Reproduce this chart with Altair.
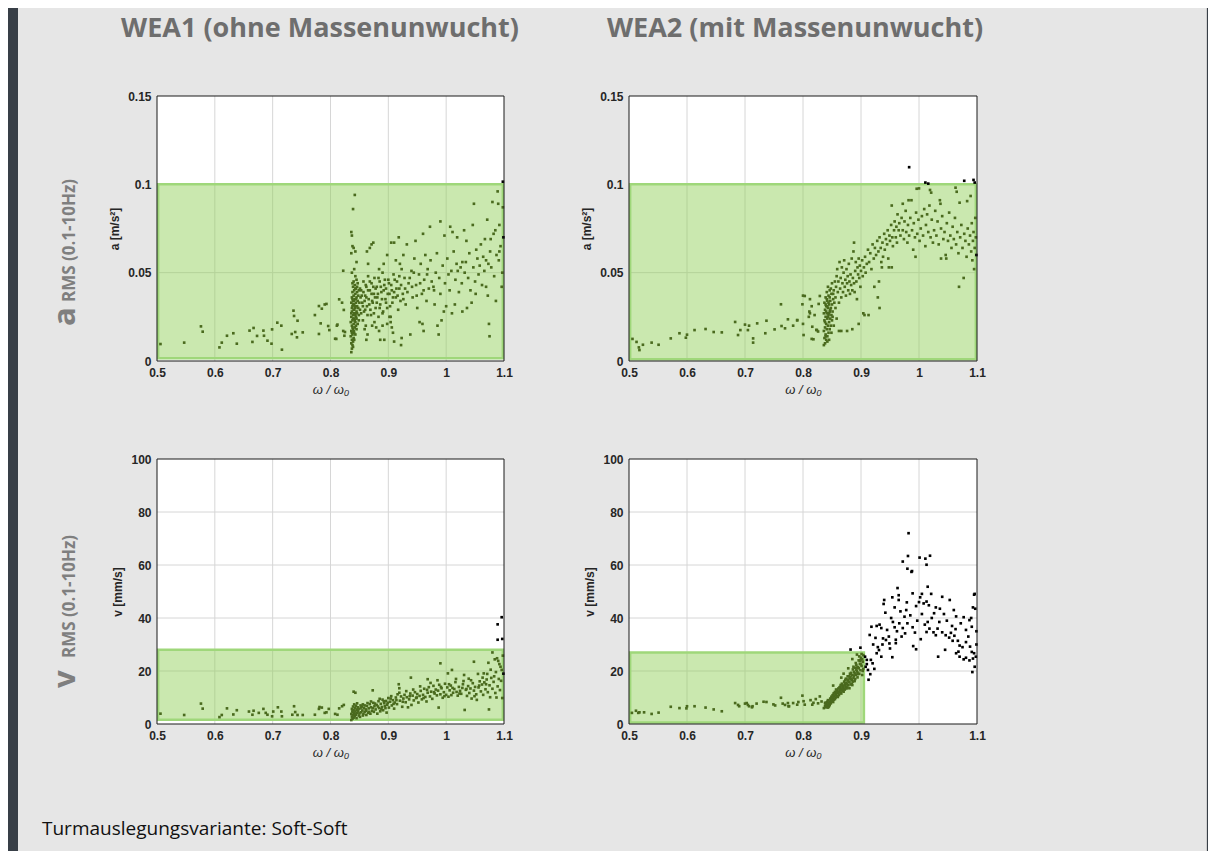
import altair as alt
import pandas as pd

W, H = 1200, 843

# ---------------- data ----------------
x_ticks = [0.5, 0.6, 0.7, 0.8, 0.9, 1.0, 1.1]
a_ticks = [0, 0.05, 0.1, 0.15]
v_ticks = [0, 20, 40, 60, 80, 100]
x_grid = [0.6, 0.7, 0.8, 0.9, 1.0]
a_grid = [0.05, 0.1]
v_grid = [20, 40, 60, 80]

# green limit boxes: (x0, x1, y0, y1)
tl_box = (0.502, 1.098, 0.0015, 0.1)
tr_box = (0.502, 1.098, 0.001, 0.1)
bl_box = (0.502, 1.098, 1.6, 28.0)
br_box = (0.502, 0.905, 0.6, 27.0)

tl_points = [
    (0.506, .0096), (0.547, .0104), (0.576, .0196), (0.579, .0166), (0.608, .0077), (0.612, .0104),
    (0.621, .0143), (0.632, .0157), (0.638, .0098), (0.660, .0172), (0.665, .0108), (0.667, .0187),
    (0.673, .0142), (0.684, .0172), (0.685, .0143), (0.691, .0115), (0.698, .0098), (0.699, .0179),
    (0.708, .0217), (0.715, .0200), (0.716, .0064), (0.733, .0153), (0.736, .0285), (0.737, .0255),
    (0.739, .0164), (0.742, .0134), (0.743, .0228), (0.752, .0162), (0.773, .0260), (0.780, .0153),
    (0.780, .0311), (0.783, .0213), (0.785, .0296), (0.793, .0323), (0.796, .0198), (0.798, .0175),
    (0.808, .0126), (0.812, .0206), (0.815, .0349), (0.820, .0330), (0.822, .0511), (0.823, .0289),
    (0.825, .0164), (0.790, .0320), (0.811, .0200), (0.810, .0125), (0.822, .0170), (0.824, .0143),
    (0.842, .094), (0.839, .086), (0.836, .073), (0.837, .071), (0.838, .065), (0.840, .064),
    (0.843, .062), (0.845, .056), (0.836, .061),
    (0.836, .005), (0.837, .007), (0.838, .009), (0.836, .010), (0.839, .011), (0.837, .012),
    (0.840, .013), (0.835, .014), (0.838, .015), (0.841, .016), (0.836, .017), (0.839, .018),
    (0.842, .019), (0.837, .020), (0.840, .021), (0.835, .022), (0.843, .022), (0.838, .023),
    (0.841, .024), (0.836, .025), (0.844, .025), (0.839, .026), (0.842, .027), (0.837, .028),
    (0.845, .028), (0.840, .029), (0.843, .030), (0.838, .031), (0.846, .031), (0.841, .032),
    (0.836, .033), (0.844, .033), (0.839, .034), (0.847, .034), (0.842, .035), (0.837, .036),
    (0.845, .036), (0.840, .037), (0.848, .037), (0.843, .038), (0.838, .039), (0.846, .039),
    (0.841, .040), (0.849, .040), (0.844, .041), (0.839, .042), (0.842, .043), (0.847, .044),
    (0.840, .045), (0.845, .046), (0.843, .048), (0.837, .050), (0.841, .052),
    (0.838, .019), (0.840, .017), (0.842, .023), (0.844, .020), (0.839, .024), (0.841, .027),
    (0.843, .026), (0.845, .024), (0.837, .030), (0.839, .032), (0.841, .029), (0.846, .027),
    (0.848, .030), (0.850, .033), (0.852, .036), (0.849, .026), (0.851, .029), (0.836, .027),
    (0.838, .035), (0.842, .031), (0.844, .035), (0.846, .042), (0.840, .034), (0.843, .041),
    (0.838, .044), (0.837, .016), (0.839, .008), (0.841, .012), (0.843, .015), (0.845, .018),
    (0.847, .021), (0.849, .023),
    (0.853, .040), (0.855, .033), (0.857, .045), (0.858, .028), (0.860, .037), (0.862, .042),
    (0.863, .031), (0.865, .048), (0.866, .035), (0.868, .040), (0.870, .026), (0.871, .044),
    (0.873, .033), (0.875, .038), (0.876, .047), (0.878, .030), (0.880, .042), (0.881, .036),
    (0.883, .025), (0.885, .045), (0.886, .032), (0.888, .039), (0.890, .050), (0.891, .028),
    (0.893, .043), (0.895, .035), (0.896, .041), (0.898, .030), (0.900, .046), (0.902, .038),
    (0.904, .025), (0.905, .043), (0.907, .033), (0.909, .049), (0.910, .039), (0.913, .036),
    (0.915, .045), (0.917, .029), (0.919, .041), (0.921, .034), (0.923, .052), (0.925, .038),
    (0.928, .047), (0.930, .032),
    (0.851, .041), (0.853, .027), (0.854, .037), (0.856, .031), (0.857, .039), (0.859, .034),
    (0.860, .029), (0.861, .043), (0.862, .036), (0.864, .026), (0.865, .040), (0.867, .032),
    (0.868, .045), (0.869, .029), (0.871, .038), (0.872, .034), (0.874, .042), (0.875, .027),
    (0.877, .036), (0.878, .041), (0.880, .033), (0.882, .038), (0.883, .047), (0.885, .030),
    (0.887, .042), (0.889, .035), (0.890, .027), (0.892, .040), (0.894, .046), (0.896, .033),
    (0.899, .038), (0.901, .044), (0.903, .031), (0.906, .040), (0.908, .036), (0.911, .046),
    (0.914, .041), (0.916, .037), (0.919, .048), (0.922, .043), (0.926, .035), (0.929, .041),
    (0.933, .039), (0.937, .047), (0.941, .042), (0.944, .050), (0.949, .037), (0.955, .044),
    (0.961, .040), (0.967, .049),
    (0.856, .023), (0.861, .020), (0.859, .018), (0.864, .015), (0.862, .012), (0.872, .020),
    (0.876, .022), (0.879, .019), (0.886, .012), (0.893, .012), (0.884, .017), (0.890, .020),
    (0.898, .021), (0.902, .025), (0.906, .019), (0.904, .022), (0.908, .016), (0.910, .011),
    (0.922, .009), (0.923, .013), (0.865, .055), (0.871, .066), (0.874, .067), (0.868, .064),
    (0.863, .062), (0.884, .052), (0.892, .055), (0.898, .060), (0.905, .067), (0.910, .067),
    (0.918, .070), (0.913, .057), (0.920, .055), (0.926, .060),
    (0.932, .066), (0.935, .044), (0.938, .015), (0.940, .051), (0.942, .036), (0.945, .058),
    (0.947, .068), (0.948, .043), (0.950, .030), (0.953, .049), (0.954, .022), (0.956, .055),
    (0.958, .038), (0.959, .021), (0.960, .072), (0.961, .017), (0.962, .046), (0.964, .060),
    (0.966, .034), (0.968, .052), (0.970, .041), (0.972, .076), (0.973, .057), (0.975, .045),
    (0.978, .042), (0.979, .040), (0.980, .032), (0.982, .050), (0.984, .061), (0.985, .020),
    (0.987, .015), (0.988, .047), (0.990, .079), (0.990, .038), (0.992, .023), (0.994, .054),
    (0.996, .028), (0.997, .071), (0.998, .044), (1.000, .031), (1.002, .058), (1.004, .049),
    (1.006, .040), (1.007, .076), (1.009, .051), (1.010, .027), (1.011, .073), (1.013, .062),
    (1.015, .032), (1.016, .046), (1.018, .055), (1.019, .070), (1.020, .051), (1.022, .039),
    (1.025, .053), (1.027, .044), (1.028, .028), (1.028, .056), (1.031, .074), (1.032, .050),
    (1.034, .056), (1.035, .068), (1.036, .030), (1.038, .047), (1.040, .061), (1.042, .040),
    (1.044, .033), (1.046, .077), (1.047, .053), (1.048, .089), (1.050, .045), (1.051, .038),
    (1.052, .063), (1.054, .058), (1.056, .049), (1.058, .054), (1.060, .066), (1.062, .043),
    (1.064, .059), (1.066, .051), (1.067, .069), (1.069, .057), (1.069, .042), (1.071, .080),
    (1.072, .037), (1.073, .055), (1.074, .021), (1.075, .014), (1.076, .062), (1.077, .069),
    (1.078, .053), (1.080, .090), (1.082, .072), (1.083, .048), (1.085, .074), (1.086, .034),
    (1.087, .060), (1.089, .096), (1.090, .089), (1.091, .057), (1.092, .077), (1.092, .062),
    (1.094, .065), (1.096, .042), (1.097, .050), (1.098, .087), (1.099, .070), (1.098, .1015),
]

tr_points = [
    (0.506, .0125), (0.513, .0108), (0.517, .0077), (0.518, .0062), (0.524, .0092), (0.539, .0104),
    (0.551, .0092), (0.572, .0128), (0.587, .0157), (0.598, .0132), (0.600, .0149), (0.613, .0175),
    (0.632, .0181), (0.646, .0164), (0.660, .0162), (0.683, .0221), (0.688, .0147), (0.692, .0175),
    (0.700, .0206), (0.707, .0200), (0.705, .0175), (0.714, .0128), (0.714, .0104), (0.721, .0213),
    (0.735, .0157), (0.737, .0228), (0.751, .0179), (0.762, .0321), (0.763, .0198), (0.769, .0185),
    (0.774, .0236), (0.783, .0200), (0.790, .0232), (0.799, .0321), (0.801, .0147), (0.803, .0368),
    (0.810, .0250), (0.812, .0270), (0.811, .0280), (0.816, .0194), (0.818, .0123), (0.824, .0175),
    (0.829, .0368), (0.827, .0323), (0.800, .0370), (0.812, .0350), (0.815, .0310), (0.820, .0260),
    (0.800, .0210), (0.790, .0230), (0.815, .0125), (0.823, .0176), (0.826, .0167),
    (0.836, .009), (0.838, .010), (0.840, .012), (0.837, .013), (0.842, .014), (0.839, .015),
    (0.844, .016), (0.836, .017), (0.841, .018), (0.846, .018), (0.838, .019), (0.843, .020),
    (0.848, .020), (0.840, .021), (0.845, .022), (0.837, .023), (0.850, .023), (0.842, .024),
    (0.847, .024), (0.839, .025), (0.844, .026), (0.849, .026), (0.836, .027), (0.841, .027),
    (0.846, .028), (0.851, .028), (0.838, .029), (0.843, .030), (0.848, .030), (0.840, .031),
    (0.845, .032), (0.850, .032), (0.837, .033), (0.842, .034), (0.847, .034), (0.852, .035),
    (0.839, .036), (0.844, .037), (0.849, .038), (0.841, .039), (0.846, .040), (0.853, .040),
    (0.838, .022), (0.843, .025), (0.845, .027), (0.840, .028), (0.842, .031), (0.847, .029),
    (0.844, .033), (0.839, .032), (0.841, .035), (0.846, .036), (0.848, .041), (0.843, .042),
    (0.850, .044), (0.855, .045), (0.852, .038), (0.854, .033), (0.851, .025), (0.849, .016),
    (0.853, .020), (0.856, .030), (0.858, .024), (0.845, .012), (0.842, .011), (0.839, .014),
    (0.856, .036), (0.857, .042), (0.858, .048), (0.859, .052), (0.860, .039), (0.861, .045),
    (0.862, .017), (0.862, .033), (0.863, .056), (0.864, .041), (0.865, .047), (0.866, .017),
    (0.866, .036), (0.867, .053), (0.868, .044), (0.869, .039), (0.870, .050), (0.871, .057),
    (0.872, .042), (0.873, .046), (0.874, .037), (0.875, .052), (0.876, .017), (0.876, .044),
    (0.877, .048), (0.878, .040), (0.879, .055), (0.880, .045), (0.881, .038), (0.882, .049),
    (0.883, .043), (0.884, .058), (0.885, .018), (0.885, .040), (0.886, .047), (0.887, .062),
    (0.888, .067), (0.888, .044), (0.889, .039), (0.890, .051), (0.891, .056), (0.892, .045),
    (0.893, .035), (0.894, .053), (0.895, .049), (0.896, .021), (0.896, .058), (0.897, .047),
    (0.898, .054), (0.899, .042), (0.900, .051), (0.902, .057), (0.903, .048), (0.904, .027),
    (0.905, .053), (0.906, .026), (0.907, .059), (0.908, .050), (0.910, .055), (0.912, .063),
    (0.913, .026), (0.914, .056), (0.916, .061), (0.918, .052), (0.920, .066), (0.922, .058),
    (0.923, .042), (0.924, .064), (0.926, .060), (0.928, .068), (0.929, .036), (0.930, .062),
    (0.931, .045), (0.932, .030), (0.932, .070), (0.934, .064), (0.935, .056), (0.936, .053),
    (0.937, .067), (0.938, .059), (0.940, .072), (0.941, .063), (0.943, .069), (0.945, .066),
    (0.946, .074), (0.947, .058), (0.948, .053), (0.949, .071), (0.950, .068), (0.952, .077),
    (0.953, .088), (0.953, .053), (0.954, .070), (0.955, .065), (0.957, .074), (0.958, .079),
    (0.960, .070), (0.961, .076), (0.962, .067), (0.963, .083), (0.965, .074), (0.966, .078),
    (0.968, .071), (0.970, .081), (0.972, .089), (0.972, .074), (0.974, .069), (0.975, .079),
    (0.977, .085), (0.978, .073), (0.980, .067), (0.981, .077), (0.982, .091), (0.983, .071),
    (0.985, .081), (0.987, .091), (0.988, .074), (0.990, .063), (0.991, .078), (0.993, .070),
    (0.994, .059), (0.995, .084), (0.996, .0975), (0.997, .072), (0.999, .080), (1.000, .0977),
    (1.001, .068), (1.003, .075), (1.005, .082), (1.007, .071), (1.009, .086), (1.011, .065),
    (1.012, .077), (1.014, .083), (1.016, .073), (1.018, .088), (1.019, .0968), (1.020, .070),
    (1.021, .0953), (1.022, .080), (1.024, .067), (1.026, .074), (1.028, .085), (1.030, .071),
    (1.032, .079), (1.034, .066), (1.036, .091), (1.037, .089), (1.038, .058), (1.038, .075),
    (1.040, .082), (1.042, .069), (1.044, .073), (1.046, .060), (1.047, .058), (1.048, .078),
    (1.050, .068), (1.052, .084), (1.054, .071), (1.056, .064), (1.058, .076), (1.060, .069),
    (1.062, .081), (1.063, .0981), (1.064, .066), (1.065, .0958), (1.066, .073), (1.068, .061),
    (1.069, .042), (1.070, .0896), (1.071, .070), (1.073, .077), (1.075, .064), (1.077, .047),
    (1.078, .072), (1.080, .068), (1.082, .059), (1.083, .0905), (1.084, .075), (1.086, .066),
    (1.088, .071), (1.089, .0934), (1.090, .062), (1.091, .078), (1.092, .057), (1.093, .068),
    (1.094, .073), (1.095, .052), (1.096, .064), (1.097, .081), (1.098, .070), (1.099, .060),
    (0.983, .1097), (1.011, .101), (1.016, .1004), (1.078, .102), (1.094, .1025), (1.096, .101),
]

bl_points = [
    (0.506, 3.9), (0.547, 3.4), (0.576, 7.7), (0.579, 5.8), (0.608, 2.6), (0.612, 3.4), (0.621, 5.9),
    (0.632, 3.6), (0.638, 5.2), (0.659, 4.7), (0.665, 3.5), (0.667, 5.0), (0.676, 4.2), (0.684, 5.7),
    (0.688, 4.2), (0.691, 3.5), (0.699, 2.9), (0.701, 4.7), (0.709, 6.3), (0.715, 4.7), (0.716, 2.9),
    (0.734, 3.5), (0.737, 6.7), (0.739, 4.5), (0.743, 3.4), (0.752, 3.4), (0.773, 3.5), (0.780, 5.7),
    (0.781, 6.4), (0.785, 6.2), (0.790, 4.2), (0.793, 4.4), (0.797, 5.7), (0.808, 3.8), (0.812, 3.5),
    (0.815, 5.9), (0.820, 6.7), (0.823, 7.2),
    (0.836, 1.5), (0.838, 2.0), (0.840, 2.4), (0.837, 2.8), (0.842, 3.0), (0.839, 3.3), (0.844, 3.5),
    (0.836, 3.8), (0.841, 4.0), (0.846, 4.2), (0.838, 4.5), (0.843, 4.7), (0.848, 4.9), (0.840, 5.2),
    (0.845, 5.4), (0.837, 5.7), (0.850, 5.8), (0.842, 6.1), (0.847, 6.3), (0.839, 6.6), (0.844, 6.9),
    (0.852, 7.0), (0.841, 7.4), (0.846, 7.8), (0.849, 3.2), (0.851, 2.7), (0.853, 4.4), (0.855, 5.1),
    (0.857, 3.8), (0.854, 6.6), (0.858, 6.0), (0.856, 7.4), (0.859, 4.6), (0.861, 5.5), (0.862, 3.4),
    (0.863, 6.8), (0.865, 4.2), (0.866, 5.9), (0.868, 7.5), (0.869, 3.9), (0.870, 6.3), (0.872, 5.0),
    (0.874, 8.0), (0.875, 4.6), (0.876, 6.7), (0.878, 5.5), (0.880, 7.2), (0.881, 3.9), (0.883, 8.6),
    (0.884, 6.0), (0.886, 4.8), (0.887, 7.6), (0.889, 6.4), (0.890, 9.2), (0.891, 5.2), (0.893, 7.9),
    (0.894, 6.8), (0.896, 8.7), (0.897, 4.3), (0.898, 7.3), (0.900, 9.8), (0.901, 6.2), (0.903, 8.4),
    (0.905, 10.5), (0.906, 7.0), (0.908, 9.0), (0.910, 5.8), (0.911, 8.1), (0.913, 10.0), (0.915, 7.5),
    (0.916, 11.2), (0.918, 15.0), (0.919, 13.5), (0.920, 8.8), (0.922, 10.4), (0.924, 6.5), (0.926, 9.6),
    (0.928, 11.0), (0.930, 8.2), (0.932, 10.1), (0.934, 6.3), (0.936, 9.3), (0.938, 11.5), (0.939, 17.5),
    (0.940, 7.2), (0.942, 10.7), (0.944, 8.9), (0.946, 12.0), (0.948, 9.8), (0.950, 11.3), (0.952, 8.1),
    (0.954, 10.6), (0.956, 12.5), (0.958, 9.3), (0.960, 11.0), (0.962, 13.3), (0.964, 10.2), (0.966, 8.5),
    (0.968, 16.9), (0.968, 11.8), (0.970, 13.9), (0.972, 10.4), (0.974, 12.2), (0.976, 9.5), (0.978, 14.4),
    (0.980, 11.5), (0.982, 13.0), (0.984, 10.8), (0.986, 12.6), (0.987, 6.2), (0.988, 14.8), (0.990, 22.9),
    (0.990, 11.2), (0.992, 13.5), (0.994, 9.9), (0.996, 12.0), (0.998, 15.2), (1.000, 11.0), (1.002, 13.8),
    (1.003, 19.1), (1.004, 10.3), (1.006, 12.7), (1.008, 14.5), (1.009, 10.9), (1.010, 20.4), (1.012, 11.8),
    (1.014, 13.2), (1.016, 15.8), (1.018, 12.1), (1.020, 10.7), (1.022, 14.0), (1.024, 12.5), (1.026, 11.4),
    (1.028, 13.6), (1.030, 16.2), (1.031, 18.5), (1.032, 5.3), (1.034, 12.9), (1.036, 10.6), (1.038, 14.3),
    (1.039, 17.1), (1.040, 11.7), (1.042, 13.4), (1.044, 9.6), (1.046, 15.4), (1.048, 23.5), (1.048, 12.6),
    (1.050, 14.0), (1.052, 11.2), (1.053, 9.1), (1.055, 18.9), (1.056, 13.8), (1.058, 16.1), (1.060, 12.3),
    (1.062, 14.9), (1.064, 11.0), (1.065, 19.1), (1.066, 15.7), (1.068, 13.1), (1.070, 16.8), (1.071, 18.9),
    (1.072, 12.0), (1.073, 23.1), (1.074, 5.5), (1.075, 14.6), (1.076, 10.1), (1.078, 17.4), (1.080, 27.0),
    (1.080, 13.3), (1.082, 15.9), (1.084, 24.4), (1.085, 11.7), (1.086, 19.6), (1.087, 10.0), (1.088, 24.8),
    (1.089, 14.2), (1.090, 23.8), (1.091, 17.0), (1.092, 22.6), (1.093, 12.8), (1.094, 21.6), (1.095, 16.3),
    (1.096, 20.4), (1.097, 9.8), (1.098, 25.8), (1.099, 19.0), (0.840, 12.2), (0.843, 11.8), (0.873, 12.7),
    (0.838, 5.0), (0.842, 3.6), (0.845, 2.2), (0.847, 5.6), (0.850, 4.0), (0.853, 6.2), (0.856, 3.2),
    (0.859, 7.0), (0.862, 5.0), (0.864, 7.9), (0.867, 4.6), (0.870, 8.5), (0.873, 6.0), (0.877, 7.7),
    (0.882, 6.6), (0.885, 9.5), (0.888, 5.6), (0.892, 8.6), (0.895, 6.0), (0.899, 8.0), (0.904, 9.6),
    (0.909, 7.6), (0.914, 9.0), (0.919, 11.8), (0.925, 8.4), (0.931, 12.4), (0.937, 10.5), (0.943, 13.0),
    (0.949, 10.0), (0.955, 14.2), (0.961, 9.8), (0.967, 12.9), (0.973, 15.5), (0.979, 12.0), (0.985, 16.5),
    (0.991, 14.0), (0.997, 10.5), (1.005, 15.0), (1.011, 13.6), (1.017, 17.0), (1.023, 11.5), (1.029, 15.0),
    (1.035, 13.2), (1.043, 16.5), (1.049, 10.5), (1.057, 14.5), (1.063, 17.5), (1.069, 15.0), (1.077, 20.5),
    (1.083, 18.0),
    (1.089, 37.6), (1.089, 31.8), (1.096, 40.3), (1.097, 32.1),
]

br_points = [
    (0.505, 4.2), (0.512, 5.0), (0.516, 4.2), (0.518, 4.4), (0.526, 4.4), (0.539, 3.8), (0.551, 4.3),
    (0.572, 6.5), (0.587, 6.0), (0.599, 5.9), (0.600, 6.7), (0.613, 6.7), (0.632, 6.2), (0.646, 5.5),
    (0.660, 4.8), (0.683, 7.9), (0.688, 7.2), (0.690, 6.7), (0.700, 7.7), (0.703, 7.9), (0.705, 7.2),
    (0.707, 6.7), (0.712, 6.3), (0.713, 6.7), (0.720, 7.7), (0.732, 8.4), (0.737, 8.3), (0.749, 7.4),
    (0.752, 7.0), (0.762, 9.9), (0.765, 7.7), (0.769, 7.2), (0.774, 7.9), (0.775, 6.7), (0.776, 6.7),
    (0.783, 7.9), (0.790, 7.3), (0.792, 8.3), (0.799, 10.7), (0.801, 8.6), (0.803, 7.3),
    (0.813, 9.0), (0.818, 8.0), (0.822, 9.4), (0.826, 7.8), (0.829, 10.4), (0.816, 7.3), (0.832, 8.5),
    (0.836, 6.0), (0.838, 6.8), (0.839, 7.5), (0.840, 6.3), (0.841, 8.2), (0.842, 7.0), (0.843, 9.0),
    (0.844, 7.7), (0.845, 6.8), (0.846, 8.5), (0.847, 9.6), (0.848, 7.8), (0.849, 10.3), (0.850, 8.9),
    (0.851, 9.7), (0.852, 11.0), (0.853, 9.2), (0.854, 10.5), (0.855, 12.1), (0.856, 9.9), (0.857, 11.3),
    (0.858, 10.6), (0.859, 12.8), (0.860, 11.7), (0.861, 13.4), (0.862, 10.9), (0.863, 12.4), (0.864, 14.0),
    (0.865, 11.8), (0.866, 13.1), (0.867, 15.2), (0.868, 12.6), (0.869, 14.3), (0.870, 13.5), (0.871, 16.0),
    (0.872, 13.0), (0.873, 14.8), (0.874, 17.1), (0.875, 15.5), (0.876, 13.8), (0.877, 16.4), (0.878, 14.6),
    (0.879, 18.0), (0.880, 15.8), (0.881, 17.2), (0.882, 14.9), (0.883, 19.3), (0.884, 16.5), (0.885, 18.4),
    (0.886, 20.6), (0.887, 17.3), (0.888, 19.7), (0.889, 16.2), (0.890, 21.2), (0.891, 18.6), (0.892, 22.3),
    (0.893, 19.9), (0.894, 17.6), (0.895, 21.5), (0.896, 24.0), (0.897, 19.0), (0.898, 22.7), (0.899, 20.3),
    (0.900, 25.0), (0.901, 21.9), (0.902, 18.5), (0.903, 23.5), (0.904, 26.0), (0.904, 20.8),
    (0.840, 7.6), (0.842, 8.4), (0.844, 6.5), (0.846, 7.2), (0.848, 9.1), (0.850, 10.0), (0.852, 8.3),
    (0.854, 9.5), (0.856, 11.0), (0.858, 12.0), (0.860, 10.2), (0.862, 12.0), (0.864, 12.9), (0.866, 11.5),
    (0.868, 14.1), (0.870, 12.2), (0.872, 15.3), (0.874, 14.0), (0.876, 15.0), (0.878, 16.8), (0.880, 13.5),
    (0.882, 17.9), (0.884, 15.2), (0.886, 16.0), (0.888, 18.2), (0.890, 17.0), (0.892, 20.5), (0.894, 19.4),
    (0.896, 21.0), (0.898, 23.8), (0.900, 22.5), (0.902, 24.4), (0.838, 8.0), (0.841, 6.6), (0.843, 6.2),
    (0.845, 7.9), (0.847, 8.0), (0.849, 8.6), (0.851, 10.8), (0.853, 11.6), (0.855, 9.4), (0.857, 13.0),
    (0.859, 10.4), (0.861, 11.9), (0.863, 13.8), (0.865, 14.7), (0.867, 13.3), (0.869, 12.7), (0.871, 14.5),
    (0.873, 16.6), (0.875, 13.4), (0.877, 18.0), (0.879, 15.9), (0.881, 19.0), (0.883, 16.9), (0.885, 14.7),
    (0.887, 21.6), (0.889, 19.1), (0.891, 23.0), (0.893, 21.3), (0.895, 18.8), (0.897, 25.5), (0.899, 24.1),
    (0.901, 26.4), (0.903, 20.0), (0.852, 14.5), (0.866, 17.5), (0.870, 19.0), (0.878, 21.0), (0.885, 24.5),
    (0.893, 26.2),
    (0.882, 28.1), (0.899, 28.8), (0.913, 16.7), (0.907, 25.4), (0.910, 24.2), (0.908, 21.6), (0.912, 20.4),
    (0.910, 22.6), (0.917, 24.2), (0.920, 22.9), (0.927, 26.7), (0.931, 27.9), (0.935, 25.4), (0.915, 33.6),
    (0.918, 36.7), (0.927, 37.0), (0.932, 37.5), (0.935, 36.2), (0.938, 32.3), (0.943, 31.7), (0.948, 33.0),
    (0.949, 30.4), (0.940, 46.8), (0.939, 45.3), (0.954, 47.8), (0.963, 51.3), (0.965, 48.6), (0.965, 46.8),
    (0.979, 45.9), (0.972, 61.3), (0.981, 63.4), (0.982, 72.0), (0.980, 58.6), (0.987, 57.4), (0.988, 57.7),
    (1.001, 62.8), (1.011, 62.4), (1.013, 60.1), (1.019, 63.5), (0.989, 49.3), (1.002, 47.8), (1.005, 49.1),
    (1.015, 51.8), (1.021, 49.1), (1.000, 46.0), (1.008, 45.5), (1.013, 46.2), (1.017, 44.8), (1.029, 44.0),
    (1.036, 43.5), (1.053, 46.8), (1.064, 40.6), (1.096, 49.1), (1.093, 44.0), (1.077, 40.3), (1.087, 39.2),
    (1.091, 36.7), (1.081, 35.5), (0.952, 40.0), (0.955, 38.5), (0.958, 36.5), (0.962, 35.0), (0.972, 36.2),
    (0.976, 34.2), (0.980, 38.0), (0.989, 36.5), (0.993, 34.5), (0.990, 29.4), (0.995, 28.2), (0.954, 25.2),
    (1.015, 38.5), (1.018, 36.0), (1.025, 34.6), (1.029, 33.5), (1.032, 36.0), (1.013, 34.7), (1.040, 34.6),
    (1.046, 33.5), (1.052, 32.6), (1.058, 31.4), (1.055, 34.4), (1.061, 33.3), (1.067, 31.4), (1.070, 29.6),
    (1.075, 29.0), (1.081, 30.9), (1.088, 29.2), (1.091, 27.2), (1.093, 24.7), (1.096, 21.6), (1.092, 19.6),
    (1.033, 25.4), (1.064, 26.7), (1.070, 25.4), (1.077, 24.4), (1.081, 25.0), (1.087, 24.0), (1.095, 26.7),
    (1.098, 25.4), (0.921, 30.0), (0.925, 32.5), (0.929, 29.0), (0.945, 35.5), (0.950, 28.5), (0.960, 30.5),
    (0.966, 38.0), (0.970, 33.0), (0.975, 40.5), (0.985, 41.0), (0.997, 39.0), (1.005, 41.5), (1.010, 37.5),
    (1.022, 40.0), (1.026, 41.8), (1.035, 38.5), (1.043, 41.5), (1.048, 39.0), (1.057, 37.0), (1.063, 35.8),
    (1.072, 38.0), (1.085, 33.0), (1.099, 30.0), (1.099, 35.0), (1.097, 43.5), (1.090, 40.0), (0.942, 42.0),
    (0.958, 44.0), (0.968, 42.5), (0.978, 43.0), (0.995, 44.5), (1.040, 48.0), (1.060, 43.0), (0.923, 20.8),
    (0.916, 18.8), (0.960, 31.8), (0.937, 30.0), (1.003, 32.0), (1.045, 28.0), (1.068, 27.3), (1.095, 48.8),
]

# ---------------- styling ----------------
DARK = "#383f47"
PANEL = "#e6e6e6"
GREEN_PT = "#4a6a1e"
GRID = "#d6d6d6"
LABEL_FONT = "Liberation Sans"


def one(**kw):
    return pd.DataFrame([kw])


def panel(points, box, xdom, ydom, xr, yr, xvals, yvals, xg, yg, ytitle):
    xs = alt.Scale(domain=xdom, range=xr, nice=False, zero=False)
    ys = alt.Scale(domain=ydom, range=yr, nice=False, zero=False)
    common = dict(
        ticks=False, domain=False, grid=False, labelFlush=False, labelOverlap=False,
        labelFont=LABEL_FONT, labelFontWeight="bold", labelFontSize=12, labelColor="#262626",
        titleFont=LABEL_FONT, titleColor="#262626", zindex=1,
        format=".2~f",
    )
    xax = alt.Axis(orient="bottom", offset=yr[0] - H, values=xvals,
                   labelPadding=6, title="ω / ω₀", titleFontStyle="italic",
                   titleFontWeight="normal", titleFontSize=13, titlePadding=5, **common)
    yax = alt.Axis(orient="left", offset=-xr[0], values=yvals,
                   labelPadding=6, title=ytitle, titleFontWeight="bold", titleFontSize=12,
                   titlePadding=6, **common)

    dom = one(x0=xdom[0], x1=xdom[1], y0=ydom[0], y1=ydom[1])
    white = alt.Chart(dom).mark_rect(fill="white").encode(
        x=alt.X("x0:Q", scale=xs, axis=xax), x2="x1",
        y=alt.Y("y0:Q", scale=ys, axis=yax), y2="y1")
    gx = alt.Chart(pd.DataFrame({"g": xg, "y0": ydom[0], "y1": ydom[1]})).mark_rule(
        color=GRID, strokeWidth=1).encode(
        x=alt.X("g:Q", scale=xs, axis=xax), y=alt.Y("y0:Q", scale=ys, axis=yax), y2="y1")
    gy = alt.Chart(pd.DataFrame({"g": yg, "x0": xdom[0], "x1": xdom[1]})).mark_rule(
        color=GRID, strokeWidth=1).encode(
        y=alt.Y("g:Q", scale=ys, axis=yax), x=alt.X("x0:Q", scale=xs, axis=xax), x2="x1")
    bx = one(x0=box[0], x1=box[1], y0=box[2], y1=box[3])
    green = alt.Chart(bx).mark_rect(fill="#8fcf55", fillOpacity=0.47,
                                    stroke="#9fd77a", strokeWidth=2.5).encode(
        x=alt.X("x0:Q", scale=xs, axis=xax), x2="x1",
        y=alt.Y("y0:Q", scale=ys, axis=yax), y2="y1")
    pdf = pd.DataFrame(points, columns=["x", "y"])
    test = f"datum.x > {box[1]} || datum.y > {box[3]}"
    pts = alt.Chart(pdf).mark_square(size=7, opacity=1).encode(
        x=alt.X("x:Q", scale=xs, axis=xax), y=alt.Y("y:Q", scale=ys, axis=yax),
        color=alt.condition(test, alt.value("black"), alt.value(GREEN_PT)))
    frame = alt.Chart(dom).mark_rect(filled=False, stroke="#1a1a1a", strokeWidth=1).encode(
        x=alt.X("x0:Q", scale=xs, axis=xax), x2="x1",
        y=alt.Y("y0:Q", scale=ys, axis=yax), y2="y1")
    return alt.layer(white, gx, gy, green, pts, frame)


base = one(k=0)
bg = alt.Chart(base).mark_rect(fill=PANEL).encode(
    x=alt.value(10), x2=alt.value(1198), y=alt.value(0), y2=alt.value(H))
edge = alt.Chart(base).mark_rule(color="#cfcfcf", strokeWidth=1).encode(
    x=alt.value(1198.5), y=alt.value(0), y2=alt.value(H))


def txt(s, x, y, size, color, weight="normal", align="center", angle=0, font="Open Sans"):
    kw = dict(text=s, fontSize=size, color=color, fontWeight=weight, align=align,
              baseline="alphabetic", font=font)
    if angle:
        kw["angle"] = angle
    return alt.Chart(base).mark_text(**kw).encode(x=alt.value(x), y=alt.value(y))


texts = [
    txt("WEA1 (ohne Massenunwucht)", 312, 29, 27, "#6e6e6e", "bold"),
    txt("WEA2 (mit Massenunwucht)", 787, 29, 27, "#6e6e6e", "bold"),
    txt("a", 67, 318, 31, "#7f7f7f", "bold", "left", 270),
    txt("RMS (0.1-10Hz)", 67, 294, 17, "#7f7f7f", "bold", "left", 270),
    txt("v", 67, 680, 31, "#7f7f7f", "bold", "left", 270),
    txt("RMS (0.1-10Hz)", 67, 650, 17, "#7f7f7f", "bold", "left", 270),
    txt("Turmauslegungsvariante: Soft-Soft", 34, 827, 19, "#111111", "normal", "left"),
]

p_tl = panel(tl_points, tl_box, [0.5, 1.1], [0, 0.15], [149, 496], [353, 88],
             x_ticks, a_ticks, x_grid, a_grid, "a [m/s²]")
p_tr = panel(tr_points, tr_box, [0.5, 1.1], [0, 0.15], [621, 969], [353, 88],
             x_ticks, a_ticks, x_grid, a_grid, "a [m/s²]")
p_bl = panel(bl_points, bl_box, [0.5, 1.1], [0, 100], [149, 496], [716, 451],
             x_ticks, v_ticks, x_grid, v_grid, "v [mm/s]")
p_br = panel(br_points, br_box, [0.5, 1.1], [0, 100], [621, 969], [716, 451],
             x_ticks, v_ticks, x_grid, v_grid, "v [mm/s]")

chart = alt.layer(bg, edge, *texts, p_tl, p_tr, p_bl, p_br).resolve_scale(
    x="independent", y="independent").properties(
    width=W, height=H, autosize=alt.AutoSizeParams(type="none"), padding=0,
    background=DARK).configure_view(strokeWidth=0)

chart.save("out.html", embed_options={"renderer": "svg", "actions": False})
